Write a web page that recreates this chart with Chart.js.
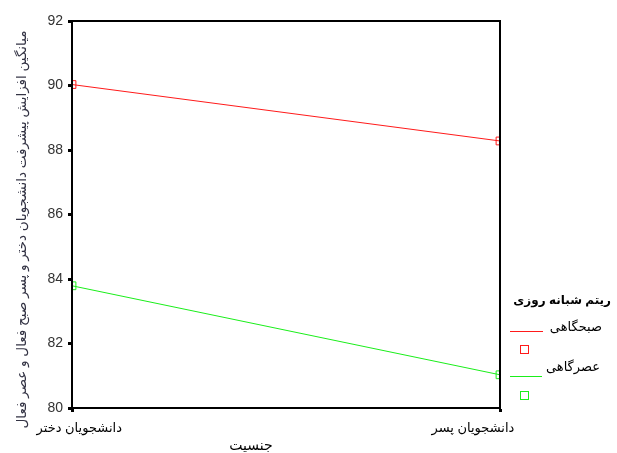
<!DOCTYPE html>
<html>
<head>
<meta charset="utf-8">
<script src="https://cdn.jsdelivr.net/npm/chart.js@4"></script>
<style>
  html, body { margin: 0; padding: 0; background: #fff; }
  #wrap { position: relative; width: 617px; height: 453px; overflow: hidden; }
  canvas { position: absolute; left: 0; top: 0; }
  .lg { position: absolute; font-family: 'Liberation Sans', 'DejaVu Sans', sans-serif; color: #000; white-space: nowrap; direction: rtl; line-height: 13px; }
  .ln { position: absolute; height: 0; border-top: 1px solid transparent; z-index: 2; }
  .sq { position: absolute; width: 7px; height: 7px; box-sizing: content-box; }
</style>
</head>
<body>
<div id="wrap">
  <canvas id="c" width="617" height="453"></canvas>
  <div class="lg" id="lgTitle" style="right:6px; top:294px; font-size:12px; font-weight:bold;"></div>
  <div class="lg" id="lg0" style="right:15px; top:320px; font-size:13px;"></div>
  <div class="ln" id="ln0" style="left:510px; top:331px; width:33px;"></div>
  <div class="sq" id="sq0" style="left:520px; top:345px;"></div>
  <div class="lg" id="lg1" style="right:17px; top:360px; font-size:13px;"></div>
  <div class="ln" id="ln1" style="left:510px; top:376px; width:32px;"></div>
  <div class="sq" id="sq1" style="left:520px; top:391px;"></div>
</div>
<script>
// ---- data ----
const categories = ['دانشجویان دختر', 'دانشجویان پسر'];
const seriesNames = ['صبحگاهی', 'عصرگاهی'];
const morningValues = [90.03, 88.28];
const eveningValues = [83.79, 81.03];
const yTicks = [80, 82, 84, 86, 88, 90, 92];
const xTitle = 'جنسیت';
const yTitle = 'میانگین افزایش پیشرفت دانشجویان دختر و پسر صبح فعال و عصر فعال';
const legendTitle = 'ریتم شبانه روزی';
const colors = ['#ff1a1a', '#1aee1a'];

// ---- legend (HTML) ----
document.getElementById('lgTitle').textContent = legendTitle;
[0, 1].forEach(i => {
  document.getElementById('lg' + i).textContent = seriesNames[i];
  document.getElementById('ln' + i).style.borderTopColor = colors[i];
  document.getElementById('sq' + i).style.border = '1px solid ' + colors[i];
});

const FONT = "'Liberation Sans', 'DejaVu Sans', sans-serif";
const pad = n => ' '.repeat(n);
// label placement nudges (visual whitespace only)
const xLabelText = [pad(4) + categories[0], categories[1] + pad(15)];

const framePlugin = {
  id: 'frame',
  afterDraw(chart) {
    const a = chart.chartArea, ctx = chart.ctx;
    ctx.save();
    ctx.strokeStyle = '#000';
    ctx.lineWidth = 2;
    ctx.strokeRect(a.left, a.top, a.right - a.left, a.bottom - a.top);
    ctx.restore();
  }
};

const mkDataset = (i, values) => ({
  label: seriesNames[i], data: values, borderColor: colors[i], backgroundColor: 'rgba(0,0,0,0)',
  borderWidth: 1, pointStyle: 'rect', pointRadius: 5.5, pointBorderWidth: 1,
  pointBorderColor: colors[i], pointBackgroundColor: 'rgba(0,0,0,0)', tension: 0, clip: 0
});

new Chart(document.getElementById('c'), {
  type: 'line',
  data: {
    labels: categories,
    datasets: [mkDataset(0, morningValues), mkDataset(1, eveningValues)]
  },
  options: {
    responsive: false,
    animation: false,
    devicePixelRatio: 1,
    layout: { padding: { left: 0, right: 117, top: 21, bottom: 0 } },
    plugins: { legend: { display: false }, tooltip: { enabled: false } },
    scales: {
      x: {
        offset: false,
        grid: { display: true, drawOnChartArea: false, drawTicks: true, tickLength: 4, tickWidth: 3, tickColor: '#000' },
        border: { display: true, color: '#000', width: 2 },
        ticks: { color: '#000', font: { family: FONT, size: 13 }, padding: 9, maxRotation: 0, autoSkip: false,
                 callback: (v, i) => xLabelText[i] },
        title: { display: true, text: xTitle + pad(18), color: '#000', font: { family: FONT, size: 14, lineHeight: 1 }, padding: { top: 0, bottom: 0 } },
        afterFit(s) { s.height = 45; }
      },
      y: {
        min: yTicks[0], max: yTicks[yTicks.length - 1],
        afterBuildTicks(s) { s.ticks = yTicks.map(v => ({ value: v })); },
        grid: { display: true, drawOnChartArea: false, drawTicks: true, tickLength: 4, tickWidth: 3, tickColor: '#000' },
        border: { display: true, color: '#000', width: 2 },
        ticks: { color: '#333', font: { family: FONT, size: 14 }, padding: 5 },
        title: { display: true, text: yTitle + pad(8), color: '#333344', font: { family: FONT, size: 13.5 }, padding: { top: 14, bottom: 0 } },
        afterFit(s) { s.width = 72; }
      }
    }
  },
  plugins: [framePlugin]
});
</script>
</body>
</html>
